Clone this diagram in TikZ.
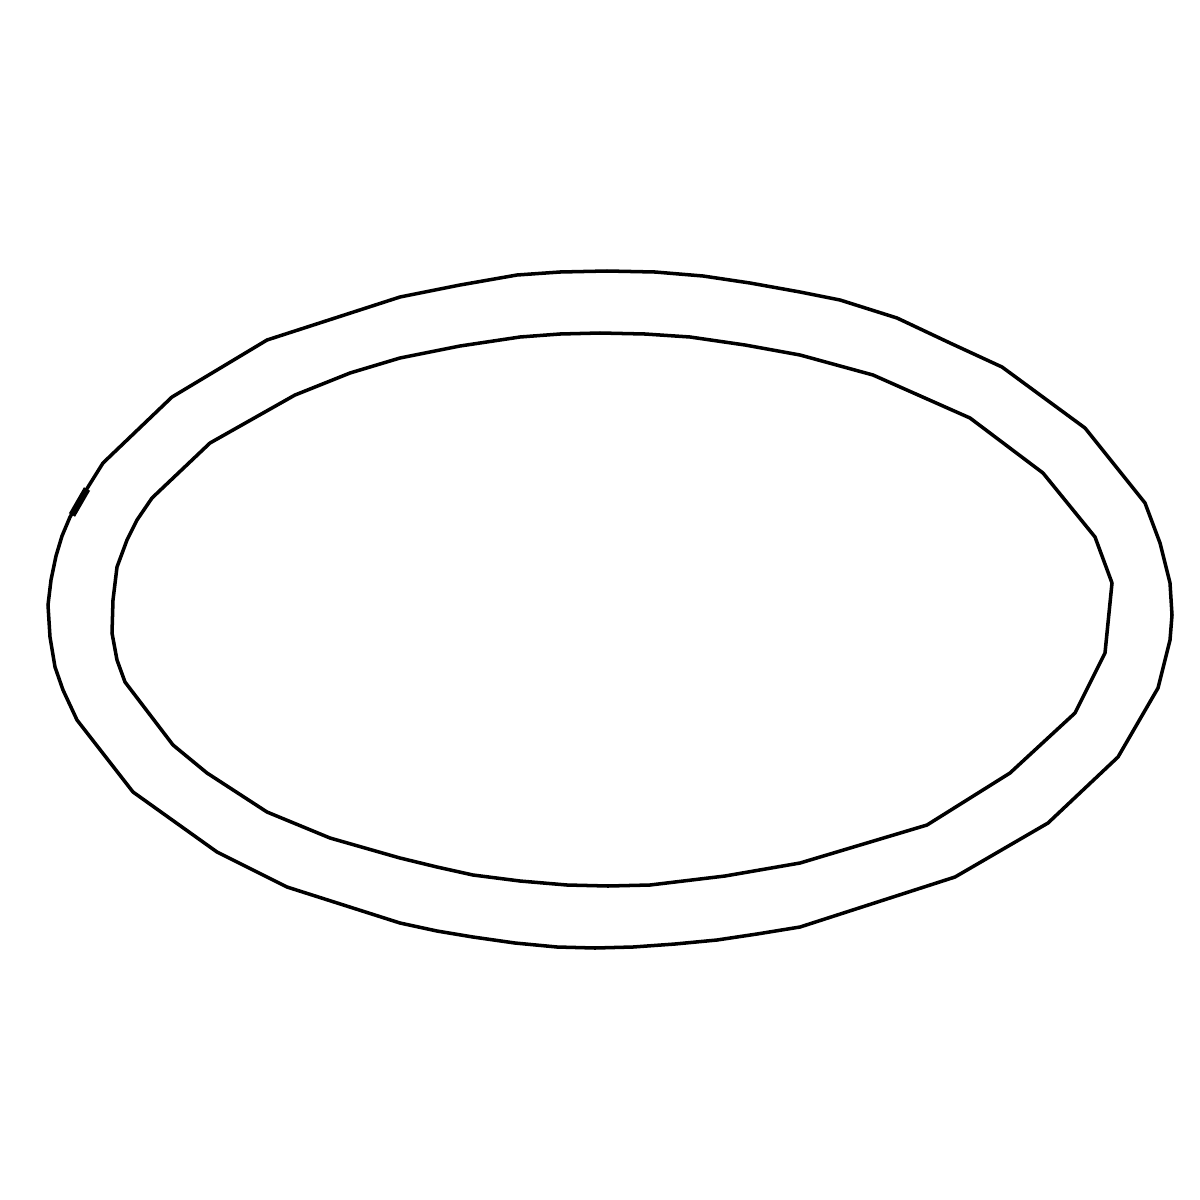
\documentclass[tikz,border=0pt]{standalone}
\usepackage{tikz}

\tikzset{
  ringline/.style={draw=black, line width=1pt, line join=round},
}

\begin{document}
\begin{tikzpicture}[x=0.01cm, y=-0.01cm]
    % Fixed frame, 1200 x 1200
    \useasboundingbox (0,0) rectangle (1200,1200);

    % Outer rim of the ring
    \draw[ringline] (607,271) -- (655,272) -- (703,276) -- (750,283) -- (800,292)
      -- (840,300) -- (897,318) -- (950,343) -- (1002,367) -- (1085,428)
      -- (1145,503) -- (1160,543) -- (1170,583) -- (1172,615) -- (1170,640)
      -- (1158,688) -- (1118,757) -- (1048,823) -- (955,877) -- (800,927)
      -- (757,934) -- (717,940) -- (675,944) -- (633,947) -- (595,948)
      -- (557,947) -- (515,943) -- (473,937) -- (437,931) -- (400,923)
      -- (287,887) -- (217,852) -- (133,792) -- (77,720) -- (63,690)
      -- (55,667) -- (50,637) -- (48,605) -- (51,580) -- (56,556)
      -- (62,536) -- (70,517) -- (88,487) -- (103,463) -- (172,397)
      -- (267,340) -- (400,297) -- (460,285) -- (517,275) -- (560,272) -- cycle;

    % Inner rim of the ring
    \draw[ringline] (600,333) -- (645,334) -- (690,337) -- (745,345) -- (800,355)
      -- (873,375) -- (970,418) -- (1043,473) -- (1095,537) -- (1112,583)
      -- (1105,653) -- (1075,713) -- (1010,773) -- (927,825) -- (800,863)
      -- (725,876) -- (650,885) -- (608,886) -- (567,885) -- (520,881)
      -- (473,875) -- (437,867) -- (400,858) -- (330,838) -- (267,812)
      -- (207,773) -- (173,745) -- (125,682) -- (117,660) -- (112,633)
      -- (113,600) -- (117,567) -- (127,540) -- (137,520) -- (152,498)
      -- (210,443) -- (295,395) -- (350,373) -- (400,358) -- (460,346)
      -- (520,337) -- (560,334) -- cycle;

    % Small heavier stroke on the left rim
    \draw[line width=2pt] (72,515) -- (87,489);
\end{tikzpicture}
\end{document}
